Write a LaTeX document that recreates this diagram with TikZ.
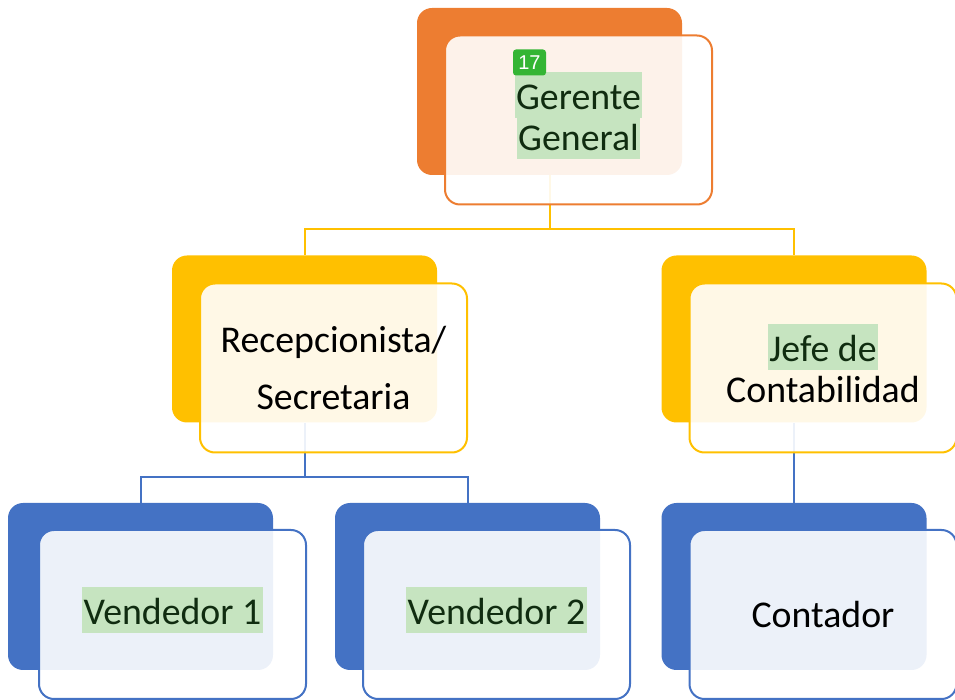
\documentclass[tikz,border=0pt]{standalone}
\usepackage{fontspec}
\setmainfont{Carlito}
\newfontfamily\badgefont{Liberation Sans}
\usepackage{xcolor}
\usepackage{tikz}
\usetikzlibrary{positioning,calc}

\definecolor{orng}{RGB}{237,125,49}
\definecolor{ylw}{RGB}{255,192,0}
\definecolor{blu}{RGB}{68,114,196}
\definecolor{hlgreen}{RGB}{198,228,192}
\definecolor{hltext}{RGB}{16,44,16}
\definecolor{badgegreen}{RGB}{52,181,52}

\setlength{\lineskiplimit}{-100pt}
\newcommand{\hlword}[1]{{\setlength{\fboxsep}{0pt}\raisebox{0pt}[0.74em][4pt]{\colorbox{hlgreen}{\rule[-4.5pt]{0pt}{23pt}\kern0.8pt\textcolor{hltext}{#1}\kern0.8pt}}}}

\begin{document}
\begin{tikzpicture}[x=0.5pt, y=-0.5pt,
  backbox/.style={fill=#1, rounded corners=7.5pt, minimum width=132.5pt, minimum height=83.5pt, inner sep=0pt},
  frontbox/.style={draw=#1, line width=1pt, fill=white, fill opacity=0.9, text opacity=1, rounded corners=7.5pt, minimum width=133.5pt, minimum height=84.5pt, inner sep=0pt, align=center, font=\fontsize{18.9}{20.5}\selectfont},
  link/.style={draw=#1, line width=1pt},
  badge/.style={fill=badgegreen, rounded corners=1.5pt, minimum width=16.5pt, minimum height=13pt, inner sep=0pt, text=white, font=\badgefont\fontsize{10}{12}\selectfont},
]
\useasboundingbox (0,0) rectangle (955,700);

\node[backbox=orng] (gg) at (549.5,91.5) {};
\node[backbox=ylw] (rs) at (304.5,339) {};
\node[backbox=ylw] (jc) at (794,339) {};
\node[backbox=blu] (v1) at (140.5,586.5) {};
\node[backbox=blu] (v2) at (467.5,586.5) {};
\node[backbox=blu] (ct) at (794,586.5) {};

\coordinate (ggbus) at (549.5,229);
\coordinate (rsbus) at (304.5,477);
\draw[link=ylw] (gg.south) -- (ggbus) -| (rs.north);
\draw[link=ylw] (ggbus) -| (jc.north);
\draw[link=blu] (rs.south) -- (rsbus) -| (v1.north);
\draw[link=blu] (rsbus) -| (v2.north);
\draw[link=blu] (jc.south) -- (ct.north);

\node[frontbox=orng] (ggf) at ($(gg)+(29,28.5)$) {\hlword{Gerente}\\\hlword{General}};
\node[frontbox=ylw] (rsf) at ($(rs)+(29,29)$) {Recepcionista/\\[8pt]Secretaria};
\node[frontbox=ylw] (jcf) at ($(jc)+(29,29)$) {\hlword{Jefe de}\\Contabilidad};
\node[frontbox=blu] (v1f) at ($(v1)+(32,28)$) {\hlword{Vendedor 1}};
\node[frontbox=blu] (v2f) at ($(v2)+(29,28)$) {\hlword{Vendedor 2}};
\node[frontbox=blu] (ctf) at ($(ct)+(29,28)$) {Contador};

\node[badge] (tag) at (529.5,62.5) {17};

\end{tikzpicture}
\end{document}
